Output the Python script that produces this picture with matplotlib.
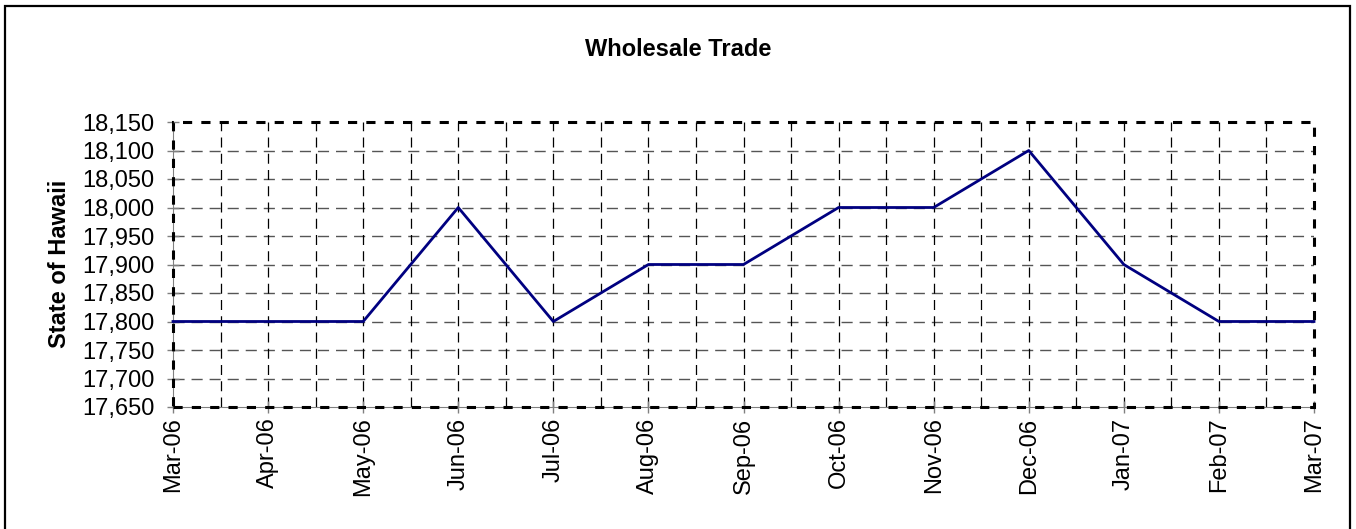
import matplotlib
matplotlib.use("Agg")
import matplotlib.pyplot as plt
from matplotlib.patches import Rectangle
from matplotlib.ticker import FuncFormatter

plt.rcParams['font.family'] = ['Liberation Sans', 'DejaVu Sans']

months = ["Mar-06", "Apr-06", "May-06", "Jun-06", "Jul-06", "Aug-06", "Sep-06",
          "Oct-06", "Nov-06", "Dec-06", "Jan-07", "Feb-07", "Mar-07"]
values = [17800, 17800, 17800, 18000, 17800, 17900, 17900,
          18000, 18000, 18100, 17900, 17800, 17800]
title = "Wholesale Trade"
ylabel = "State of Hawaii"
y_min, y_max, y_step = 17650, 18150, 50

W, H = 1356, 529
fig = plt.figure(figsize=(W / 100, H / 100), dpi=100)
ax = fig.add_axes([173 / W, 1 - 407 / H, (1314 - 173) / W, (407 - 122) / H])

x = list(range(len(months)))
ax.set_xlim(0, len(months) - 1)
ax.set_ylim(y_min, y_max)

# grid lines
yticks = list(range(y_min, y_max + 1, y_step))
for yv in yticks[1:-1]:
    ax.axhline(yv, color='#555555', lw=1.0, ls=(0, (8, 5)), zorder=1)
for i in range(1, 2 * (len(months) - 1)):
    ax.axvline(i / 2, color='black', lw=0.9, ls=(0, (8, 5)), zorder=1)

ax.plot(x, values, color='#000080', lw=2.0, zorder=3, clip_on=False)

ax.set_xticks(x)
ax.set_xticklabels(months, rotation=90, fontsize=17)
ax.set_yticks(yticks)
ax.yaxis.set_major_formatter(FuncFormatter(lambda v, p: f"{int(v):,}"))
ax.tick_params(axis='both', direction='inout', length=9, width=1, color='#808080',
               labelsize=17)
ax.tick_params(axis='y', pad=9)
ax.tick_params(axis='x', pad=3)

for s in ax.spines.values():
    s.set_visible(False)
ax.spines['left'].set_visible(True)
ax.spines['bottom'].set_visible(True)
ax.spines['left'].set_color('#808080')
ax.spines['bottom'].set_color('#808080')

# dashed plot-area border
ax.add_patch(Rectangle((0, 0), 1, 1, transform=ax.transAxes, fill=False,
                       ec='black', lw=2.2, ls=(0, (3, 3)), zorder=4, clip_on=False))

fig.text(678 / W, 1 - 50 / H, title, fontsize=17, fontweight='bold',
         ha='center', va='center')
fig.text(60 / W, 1 - 264 / H, ylabel, fontsize=17, fontweight='bold',
         ha='center', va='center', rotation=90)

# figure border (bottom edge lies outside the image)
fig.add_artist(Rectangle((5 / W, -10 / H), (1350 - 5) / W, (529 - 6 + 10) / H,
                         transform=fig.transFigure, fill=False, ec='black', lw=1.6))

fig.savefig("out.png", dpi=100)
